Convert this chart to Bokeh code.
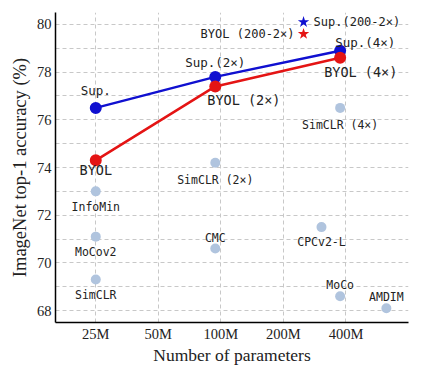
from bokeh.plotting import figure
from bokeh.models import ColumnDataSource, FixedTicker, Range1d
from bokeh.core.properties import value
from bokeh.embed import file_html
from bokeh.resources import INLINE

# ---- data (parameters in millions, top-1 accuracy in %) ----
sup_params = [25, 94, 375]
sup_acc = [76.5, 77.8, 78.9]
sup_labels = ["Sup.", "Sup.(2×)", "Sup.(4×)"]

byol_params = [25, 94, 375]
byol_acc = [74.3, 77.4, 78.6]
byol_labels = ["BYOL", "BYOL (2×)", "BYOL (4×)"]

other_methods = ["InfoMin", "MoCov2", "SimCLR", "SimCLR (2×)", "CMC",
                 "CPCv2-L", "SimCLR (4×)", "MoCo", "AMDIM"]
other_params = [25, 25, 25, 94, 94, 305, 375, 375, 626]
other_acc = [73.0, 71.1, 69.3, 74.2, 70.6, 71.5, 76.5, 68.6, 68.1]

star_labels = ["Sup.(200-2×)", "BYOL (200-2×)"]
star_params = [250, 250]
star_acc = [80.1, 79.6]

x_ticks = [25, 50, 100, 200, 400]
x_tick_labels = ["25M", "50M", "100M", "200M", "400M"]
y_ticks = [68, 70, 72, 74, 76, 78, 80]

# ---- styling ----
BLUE = "#1010d0"
RED = "#e41414"
GREY = "#b0c4de"
MONO = "DejaVu Sans Mono"
SERIF = "Liberation Serif"

p = figure(width=418, height=367, output_backend="svg", toolbar_location=None,
           x_axis_type="log", x_range=Range1d(16, 800), y_range=Range1d(67.5, 80.5),
           min_border_left=55, min_border_right=10, min_border_top=12, min_border_bottom=44)
p.outline_line_color = None
p.background_fill_color = "white"

p.xaxis.ticker = FixedTicker(ticks=x_ticks)
p.xaxis.major_label_overrides = {t: l for t, l in zip(x_ticks, x_tick_labels)}
p.yaxis.ticker = FixedTicker(ticks=y_ticks, minor_ticks=[v + 1 for v in y_ticks[:-1]])

for ax in (p.xaxis, p.yaxis):
    ax.axis_line_color = "black"
    ax.axis_line_width = 1.5
    ax.major_tick_line_color = None
    ax.minor_tick_line_color = None
    ax.major_tick_in = 0
    ax.major_tick_out = 0
    ax.minor_tick_in = 0
    ax.minor_tick_out = 0
    ax.major_label_text_font = SERIF
    ax.major_label_text_font_size = "14.5px"
    ax.major_label_text_color = "#222222"
    ax.axis_label_text_font = SERIF
    ax.axis_label_text_font_style = "normal"
    ax.axis_label_text_color = "#222222"

p.xaxis.major_label_standoff = 3
p.xaxis.axis_label_standoff = 0
p.xaxis.axis_label_text_font_size = "17.5px"
p.yaxis.major_label_standoff = 4
p.yaxis.axis_label_standoff = 4
p.yaxis.axis_label_text_font_size = "18.5px"

p.xaxis.axis_label = "Number of parameters"
p.yaxis.axis_label = "ImageNet top-1 accuracy (%)"

for g in (p.xgrid, p.ygrid):
    g.grid_line_color = "#c8c8c8"
    g.grid_line_dash = "4 3"
    g.grid_line_width = 1
p.ygrid.minor_grid_line_color = "#c8c8c8"
p.ygrid.minor_grid_line_dash = "4 3"
p.ygrid.minor_grid_line_width = 1

# other methods
osrc = ColumnDataSource(dict(x=other_params, y=other_acc, label=other_methods,
                             yo=[16, 15, 15, 17, -11, 15, 17, -11, -11]))
p.scatter("x", "y", source=osrc, size=10, color=GREY, line_color=None)
p.text("x", "y", text="label", source=osrc, y_offset="yo",
       text_font=value(MONO), text_font_size="11.5px", text_color="#222222",
       text_align="center", text_baseline="middle")

# lines
p.line(sup_params, sup_acc, line_color=BLUE, line_width=2.5)
p.line(byol_params, byol_acc, line_color=RED, line_width=2.5)
p.scatter(sup_params, sup_acc, size=12, color=BLUE, line_color=None)
p.scatter(byol_params, byol_acc, size=12, color=RED, line_color=None)

ssrc = ColumnDataSource(dict(x=sup_params, y=sup_acc, label=sup_labels,
                             xo=[0, 0, -5], yo=[-17, -14, -8],
                             al=["center", "center", "left"]))
p.text("x", "y", text="label", source=ssrc, x_offset="xo", y_offset="yo",
       text_align="al", text_font=value(MONO), text_font_size="12.5px",
       text_color="#222222", text_baseline="middle")

bsrc = ColumnDataSource(dict(x=byol_params, y=byol_acc, label=byol_labels,
                             xo=[0, -8, -16], yo=[10, 14, 14],
                             al=["center", "left", "left"]))
p.text("x", "y", text="label", source=bsrc, x_offset="xo", y_offset="yo",
       text_align="al", text_font=value(MONO), text_font_size="13.5px",
       text_color="#222222", text_baseline="middle")

# stars
p.scatter(star_params, star_acc, marker="star", size=12,
          color=[BLUE, RED], line_color=None)
tsrc = ColumnDataSource(dict(x=star_params, y=star_acc, label=star_labels,
                             xo=[10, -9], al=["left", "right"]))
p.text("x", "y", text="label", source=tsrc, x_offset="xo", text_align="al",
       text_font=value(MONO), text_font_size="12px", text_color="#222222",
       text_baseline="middle")

open("out.html", "w").write(file_html(p, INLINE))
